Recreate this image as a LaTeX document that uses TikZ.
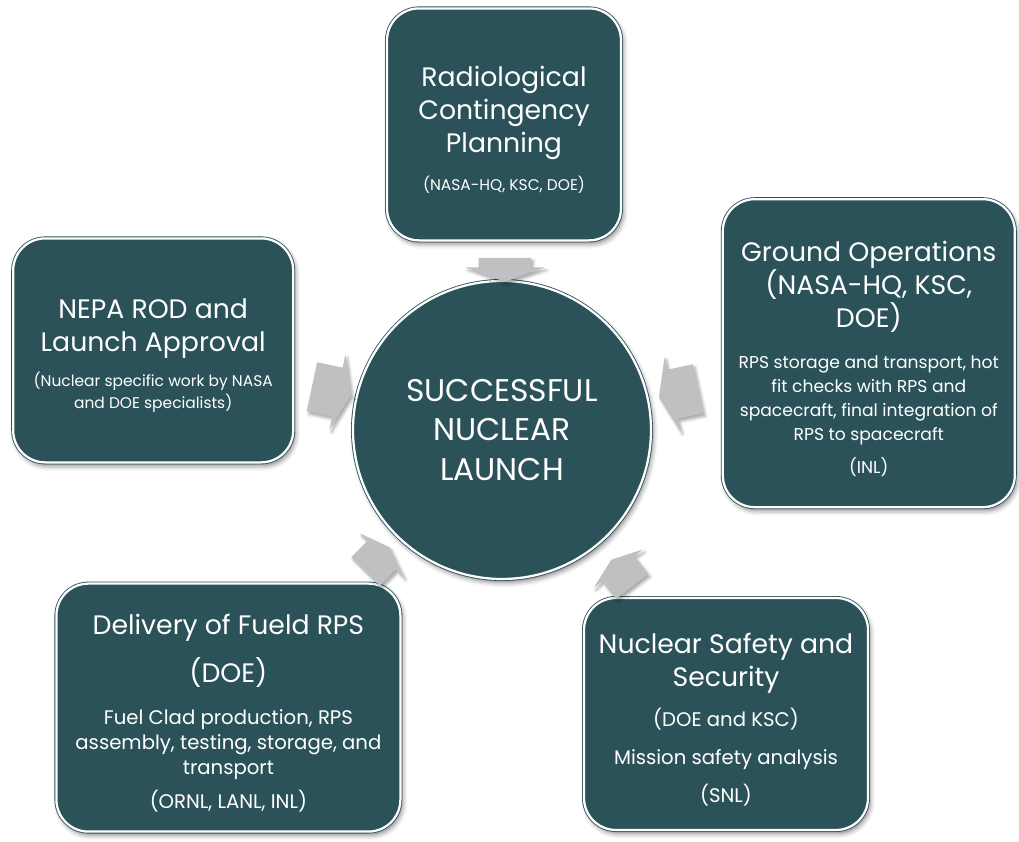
\documentclass[tikz,border=0pt]{standalone}
\usepackage{fontspec}
\setmainfont{Poppins}
\usepackage{tikz}
\usetikzlibrary{shapes.geometric, shapes.arrows, shadows.blur, positioning}
\definecolor{hijauTua}{RGB}{43,82,89}
\definecolor{abuPanah}{RGB}{190,192,194}
\newcommand{\judul}{\fontsize{19}{23.5}\selectfont}
\newcommand{\kecil}{\fontsize{11}{15.6}\selectfont}
\newcommand{\isi}{\fontsize{12.2}{17}\selectfont}
\newcommand{\isiB}{\fontsize{14}{17.7}\selectfont}

\begin{document}
\begin{tikzpicture}[
  dasar/.style={draw=hijauTua, line width=0.6pt, double=white, double distance=1.6pt,
    fill=hijauTua, text=white, align=flush center, inner sep=0pt, font=\judul,
    blur shadow={shadow xshift=1.5pt, shadow yshift=-2.5pt, shadow blur radius=3.5pt, shadow opacity=50}},
  kotak/.style={dasar, rounded corners=0.8cm, execute at end node={\endgraf\vspace{-8pt}}},
  pusat/.style={dasar, circle},
  panah/.style={single arrow, fill=abuPanah, draw=none, inner xsep=0pt,
    single arrow tip angle=140,
    blur shadow={shadow xshift=1.5pt, shadow yshift=-2pt, shadow blur radius=2pt, shadow opacity=35}},
]
  \useasboundingbox (0,0) rectangle (25.475,21.05);

  \node[pusat, minimum size=7.45cm, text width=6.8cm, font=\fontsize{22.3}{28.4}\selectfont] at (12.55,10.3) (sukses)
    {SUCCESSFUL\\NUCLEAR\\LAUNCH};

  \node[kotak, minimum width=5.85cm, minimum height=5.8cm, text width=5.5cm] at (12.6,17.94) (radplan)
    {Radiological\\Contingency\\Planning\\[11.4pt]{\kecil (NASA-HQ, KSC, DOE)\par}};
  \node[kotak, minimum width=7.0cm, minimum height=5.6cm, text width=6.7cm] at (3.83,12.29) (nepa)
    {NEPA ROD and\\Launch Approval\\[9.3pt]{\kecil (Nuclear specific work by NASA\\and DOE specialists)\par}};
  \node[kotak, minimum width=7.3cm, minimum height=7.7cm, text width=7.1cm] at (21.72,12.22) (groundops)
    {Ground Operations\\(NASA-HQ, KSC,\\DOE)\\[12pt]{\isi RPS storage and transport, hot\\fit checks with RPS and\\spacecraft, final integration of\\RPS to spacecraft\\[6.4pt](INL)\par}};
  \node[kotak, minimum width=8.6cm, minimum height=6.2cm, text width=8.3cm] at (5.71,3.36) (delivery)
    {Delivery of Fueld RPS\\[10.5pt](DOE)\\[12.3pt]{\isiB Fuel Clad production, RPS\\assembly, testing, storage, and\\transport\\[7.1pt](ORNL, LANL, INL)\par}};
  \node[kotak, minimum width=7.1cm, minimum height=5.8cm, text width=6.9cm] at (18.15,3.2) (safety)
    {Nuclear Safety and\\Security\\[9.3pt]{\isiB (DOE and KSC)\\[9.3pt]Mission safety analysis\\[9.2pt](SNL)\par}};

  % panah ke pusat
  \node[panah, inner ysep=0.65cm, single arrow head extend=0.33cm, minimum height=0.6cm, rotate=-90] at (12.625,14.425) (pRad) {};
  \node[panah, inner ysep=0.62cm, single arrow head extend=0.33cm, minimum height=1.0cm, rotate=-12] at (8.175,11.3) (pNepa) {};
  \node[panah, inner ysep=0.62cm, single arrow head extend=0.33cm, minimum height=1.0cm, rotate=192] at (17.075,11.25) (pGround) {};
  \node[panah, inner ysep=0.5cm, single arrow head extend=0.27cm, minimum height=0.85cm, rotate=45] at (9.375,7.0) (pDeliv) {};
  \node[panah, inner ysep=0.5cm, single arrow head extend=0.27cm, minimum height=0.85cm, rotate=128] at (15.6,6.65) (pSafety) {};
\end{tikzpicture}
\end{document}
